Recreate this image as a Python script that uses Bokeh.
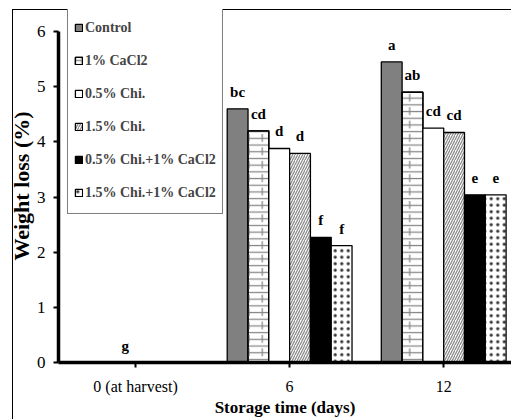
from bokeh.plotting import figure
from bokeh.models import ColumnDataSource, FixedTicker, Legend, LegendItem, Range1d
from bokeh.transform import dodge
from bokeh.core.properties import value
from bokeh.embed import file_html
from bokeh.resources import INLINE

# ---- data ----
days = ["0 (at harvest)", "6", "12"]
day_pos = [0, 1, 2]
treatments = ["Control", "1% CaCl2", "0.5% Chi.", "1.5% Chi.",
              "0.5% Chi.+1% CaCl2", "1.5% Chi.+1% CaCl2"]
control = [0, 4.60, 5.45]
cacl2 = [0, 4.20, 4.90]
chi05 = [0, 3.88, 4.25]
chi15 = [0, 3.79, 4.17]
chi05_cacl2 = [0, 2.27, 3.04]
chi15_cacl2 = [0, 2.12, 3.04]
letters_control = ["", "bc", "a"]
letters_cacl2 = ["", "cd", "ab"]
letters_chi05 = ["g", "d", "cd"]
letters_chi15 = ["", "d", "cd"]
letters_chi05_cacl2 = ["", "f", "e"]
letters_chi15_cacl2 = ["", "f", "e"]
y_ticks = [0, 1, 2, 3, 4, 5, 6]

series = [control, cacl2, chi05, chi15, chi05_cacl2, chi15_cacl2]
letters = [letters_control, letters_cacl2, letters_chi05, letters_chi15,
           letters_chi05_cacl2, letters_chi15_cacl2]

FONT = "Liberation Serif"
SERIF = value(FONT)
FW, FH = 511, 419
ML, MR, MT, MB = 58, 0, 9, 56

p = figure(width=FW, height=FH, x_range=Range1d(-0.5, 2.44), y_range=Range1d(0, 6.4),
           output_backend="svg", toolbar_location=None,
           min_border_left=ML, min_border_right=MR, min_border_top=MT, min_border_bottom=MB)
p.xgrid.visible = False
p.ygrid.visible = False
p.outline_line_color = None
p.border_fill_color = None
p.background_fill_color = None
p.styles = {
    "background": "linear-gradient(#000,#000) 12px 9px / 1px calc(100% - 9px) no-repeat, "
                  "linear-gradient(#000,#000) 12px 9px / calc(100% - 12px) 1px no-repeat"
}

group_w = 0.81
n = len(treatments)
bw = group_w / n
offsets = [-group_w / 2 + (j + 0.5) * bw for j in range(n)]

styles = [
    dict(fill_color="#808080"),
    dict(fill_color="white", hatch_pattern="horizontal_line", hatch_scale=6.7,
         hatch_color="#888888", hatch_weight=1.3),
    dict(fill_color="white"),
    dict(fill_color="white", hatch_pattern="right_diagonal_line", hatch_scale=5,
         hatch_color="#8c8c8c", hatch_weight=1.3),
    dict(fill_color="black"),
    dict(fill_color="white", hatch_pattern="dot", hatch_scale=6.5,
         hatch_color="#333333", hatch_weight=1.6),
]

items = []
for j in range(n):
    src = ColumnDataSource(dict(x=day_pos, top=series[j], label=letters[j]))
    xs = dodge("x", offsets[j], range=p.x_range)
    r = p.vbar(x=xs, top="top", width=bw, source=src, line_color="black",
               line_width=1.3, **styles[j])
    rs = [r]
    if j == 1:
        r2 = p.vbar(x=xs, top="top", width=bw, source=src, fill_color=None,
                    line_color="black", line_width=1.3,
                    hatch_pattern="vertical_dash", hatch_scale=13.4,
                    hatch_color="#888888", hatch_weight=1.3)
        rs.append(r2)
    items.append(LegendItem(label=treatments[j], renderers=rs))
    p.text(x=xs, y="top", text="label", source=src, text_font=SERIF,
           text_font_style="bold", text_font_size="15px", text_align="center",
           text_baseline="middle", y_offset=-17, text_color="black")

pad, lab_h, spc = 6, 29, 4
leg_h = 2 * pad + n * lab_h + (n - 1) * spc
frame_h = FH - MT - MB
legend = Legend(items=items, location=(9, frame_h - leg_h), margin=0,
                border_line_color="black", border_line_width=1,
                background_fill_color="white", background_fill_alpha=1,
                label_text_font=FONT, label_text_font_style="bold",
                label_text_font_size="14px", glyph_width=9, glyph_height=9,
                label_standoff=2, padding=pad, spacing=spc, label_height=lab_h)
p.add_layout(legend)

yax = p.yaxis[0]
yax.ticker = FixedTicker(ticks=y_ticks)
yax.bounds = (0, 6)
yax.axis_line_width = 3.5
yax.major_tick_line_width = 2
yax.major_tick_out = 5
yax.major_tick_in = 0
yax.minor_tick_out = 0
yax.minor_tick_in = 0
yax.major_label_text_font = FONT
yax.major_label_text_font_size = "17px"
yax.major_label_text_color = "black"
yax.major_label_standoff = 8
yax.axis_label = "Weight loss (%)"
yax.axis_label_text_font = FONT
yax.axis_label_text_font_style = "bold"
yax.axis_label_text_font_size = "22px"
yax.axis_label_text_color = "black"
yax.axis_label_standoff = 0

xax = p.xaxis[0]
xax.ticker = FixedTicker(ticks=day_pos)
xax.major_label_overrides = {pos: lab for pos, lab in zip(day_pos, days)}
xax.axis_line_width = 3.5
xax.major_tick_line_width = 2
xax.major_tick_out = 5
xax.major_tick_in = 0
xax.minor_tick_out = 0
xax.minor_tick_in = 0
xax.major_label_text_font = FONT
xax.major_label_text_font_size = "16px"
xax.major_label_text_color = "black"
xax.major_label_standoff = 10
xax.axis_label = "Storage time (days)"
xax.axis_label_text_font = FONT
xax.axis_label_text_font_style = "bold"
xax.axis_label_text_font_size = "17px"
xax.axis_label_text_color = "black"
xax.axis_label_standoff = 0

open("out.html", "w").write(file_html(p, INLINE))
